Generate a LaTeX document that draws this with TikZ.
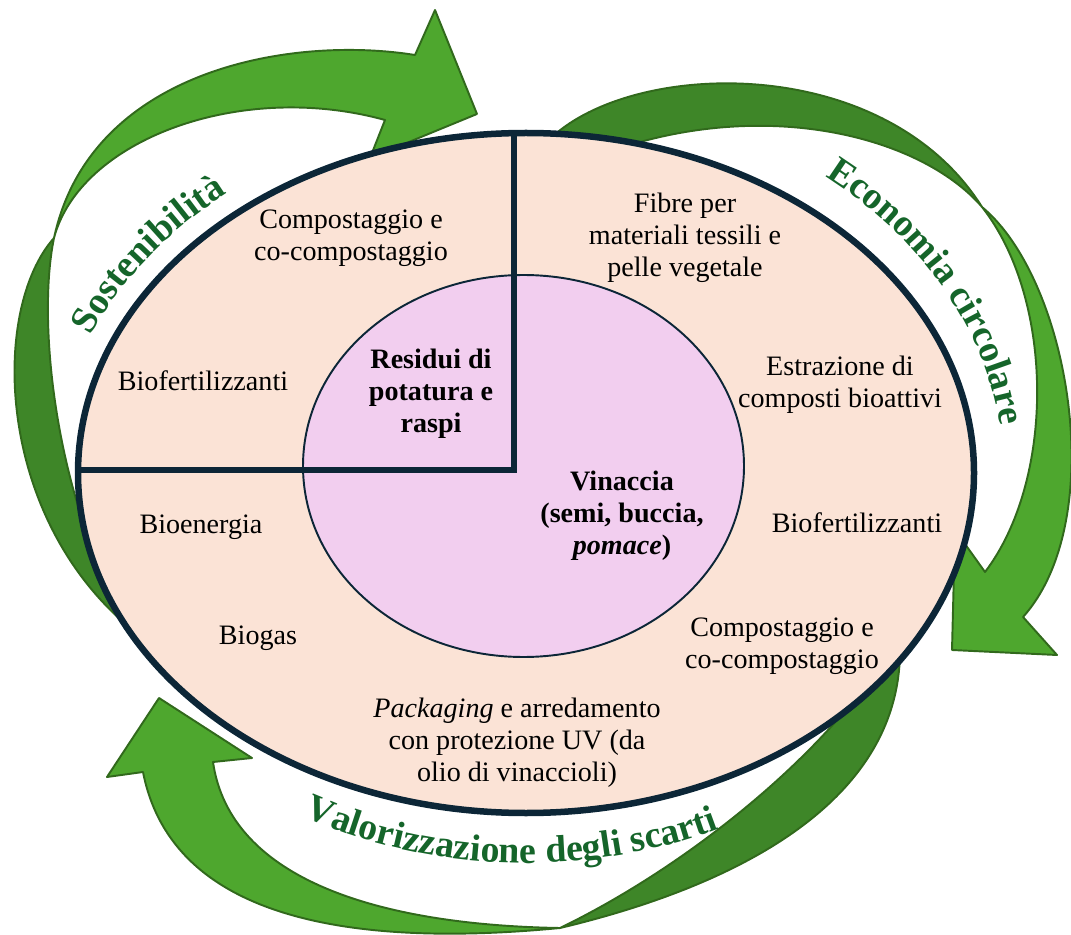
\documentclass[tikz,border=0pt]{standalone}
\usepackage{fontspec}
\setmainfont{Liberation Serif}
\usetikzlibrary{decorations.text}
\definecolor{peach}{HTML}{FBE3D6}
\definecolor{lilac}{HTML}{F2CEEF}
\definecolor{navy}{HTML}{0C2637}
\definecolor{gLight}{HTML}{4EA72E}
\definecolor{gDark}{HTML}{3E8628}
\definecolor{gEdge}{HTML}{31691C}
\definecolor{gText}{HTML}{15652A}
\begin{document}
\begin{tikzpicture}[x=0.02cm,y=-0.02cm]
    \tikzset{%
        t/.style={align=center, inner sep=0pt, font=\fontsize{16}{18.3}\selectfont},
        tb/.style={t, font=\fontsize{16}{18.3}\selectfont\bfseries},
        light/.style={fill=gLight, draw=gEdge, line width=1.1pt, line join=round},
        dark/.style={light, fill=gDark},
        lbl/.style={decorate, decoration={text along path, text align=center,
            text={|\fontsize{21.5}{24}\selectfont\bfseries\color{gText}|#1}}}%
        }
    \useasboundingbox (0,0) rectangle (1071,935);
    % arrow: Sostenibilita
    \coordinate (pA) at (54,238);
    \path[dark] (pA) .. controls (-10,310) and (-5,520) .. (135,632)
        .. controls (60,520) and (35,330) .. (pA) -- cycle;
    \path[light] (477,114) -- (435,10) -- (415,55)
        .. controls (290,35) and (90,70) .. (pA)
        .. controls (80,140) and (240,80) .. (385,120)
        -- (370,158) -- cycle;
    % arrow: Economia circolare
    \coordinate (pB) at (982,207);
    \path[dark] (540,150) .. controls (610,60) and (880,45) .. (pB)
        .. controls (920,135) and (760,95) .. (600,155) -- cycle;
    \path[light] (952,650) -- (955,530) -- (985,572)
        .. controls (1055,480) and (1055,300) .. (pB)
        .. controls (1070,280) and (1110,520) .. (1023,617)
        -- (1057,655) -- cycle;
    % arrow: Valorizzazione
    \coordinate (pC) at (560,928);
    \path[dark] (pC) .. controls (720,890) and (900,810) .. (900,650) -- (895,640)
        .. controls (840,740) and (700,860) .. (pC) -- cycle;
    \path[light] (159,698) -- (107,777) -- (143,772)
        .. controls (170,910) and (330,950) .. (pC)
        .. controls (380,925) and (230,880) .. (213,762)
        -- (252,758) -- cycle;
    % ellipses
    \fill[peach] (526,473) ellipse[x radius=448, y radius=340];
    \filldraw[fill=lilac, draw=navy, line width=1.1pt] (523.5,466) ellipse[x radius=220.5, y radius=191];
    \begin{scope}
        \clip (526,473) ellipse[x radius=448, y radius=340];
        \draw[navy, line width=3.7pt] (514,100) -- (514,470) -- (40,470);
    \end{scope}
    \draw[navy, line width=3.7pt] (526,473) ellipse[x radius=448, y radius=340];
    % texts
    \node[t] (compA) at (351,238) {Compostaggio e\\co-compostaggio};
    \node[t] (bioA) at (203,381) {Biofertilizzanti};
    \node[tb] (residui) at (431,394) {Residui di\\potatura e\\raspi};
    \node[t] (fibre) at (685,238) {Fibre per\\materiali tessili e\\pelle vegetale};
    \node[t] (estraz) at (840,385) {Estrazione di\\composti bioattivi};
    \node[tb] (vinaccia) at (622,516) {Vinaccia\\(semi, buccia,\\\textit{pomace})};
    \node[t] (bioB) at (857,523) {Biofertilizzanti};
    \node[t] (bioen) at (201,527) {Bioenergia};
    \node[t] (biogas) at (258,638) {Biogas};
    \node[t] (compB) at (782,646) {Compostaggio e\\co-compostaggio};
    \node[t] (pack) at (517,743) {\textit{Packaging} e arredamento\\con protezione UV (da\\olio di vinaccioli)};
    % curved labels
    \path[lbl=Sostenibilità] (526,473) ++(185:470 and 362) arc[start angle=185, end angle=245, x radius=470, y radius=362];
    \path[lbl=Economia circolare] (526,473) ++(301:478 and 380) arc[start angle=301, end angle=362, x radius=478, y radius=380];
    \path[lbl=Valorizzazione degli scarti] (526,473) ++(125:470 and 390) arc[start angle=125, end angle=59, x radius=470, y radius=390];
\end{tikzpicture}
\end{document}
